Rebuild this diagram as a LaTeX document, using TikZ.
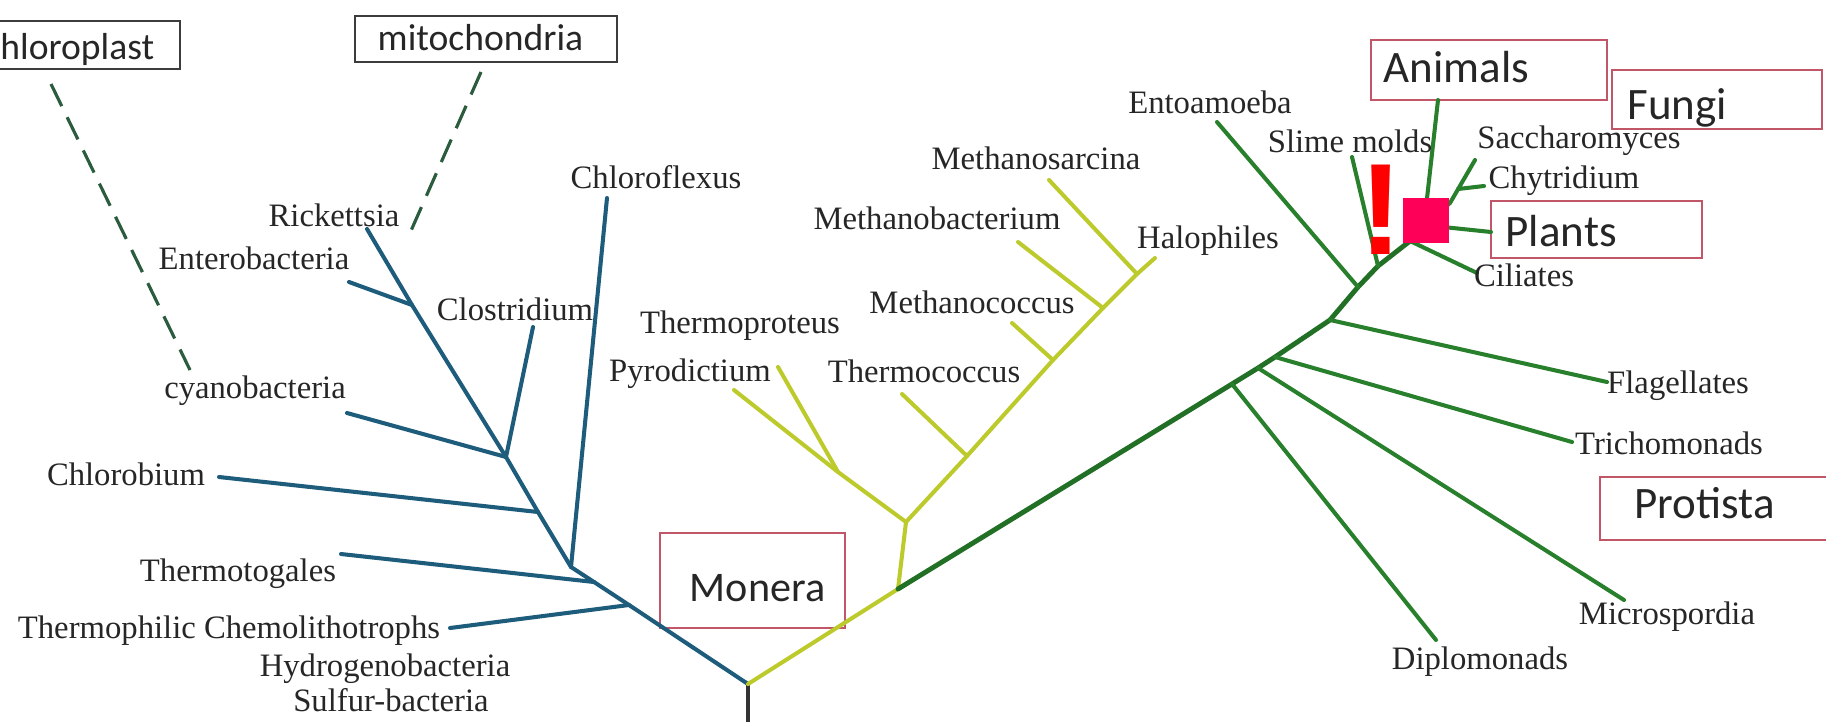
\documentclass[tikz,border=0pt]{standalone}
\usepackage{fontspec}
\setmainfont{Liberation Serif}
\newfontfamily\boxfont{Carlito}
\newfontfamily\bangfont{Liberation Sans}
\usetikzlibrary{fit}
\definecolor{bluebr}{RGB}{30,92,124}
\definecolor{yelbr}{RGB}{188,202,44}
\definecolor{grnbr}{RGB}{40,128,44}
\definecolor{grnmain}{RGB}{34,112,38}
\definecolor{dashgr}{RGB}{44,92,62}
\definecolor{boxred}{RGB}{192,86,104}
\definecolor{boxgray}{RGB}{60,60,60}
\definecolor{txt}{RGB}{38,38,38}
\definecolor{bangred}{RGB}{255,0,0}
\definecolor{sqpink}{RGB}{255,0,88}
\begin{document}
\begin{tikzpicture}[x=0.1mm,y=-0.1mm,
  lbl/.style={font=\fontsize{9.3}{11}\selectfont, text=txt, inner sep=0pt, anchor=mid},
  kbox/.style={draw=boxred, line width=0.8pt, inner sep=0pt},
  gbox/.style={draw=boxgray, line width=0.8pt, inner sep=0pt},
  ktext/.style={font=\boxfont\fontsize{12.8}{14}\selectfont, text=txt, inner sep=0pt, anchor=base west},
  otext/.style={font=\boxfont\fontsize{10.7}{12}\selectfont, text=txt, inner sep=0pt},
  btree/.style={draw=bluebr, line width=1.15pt, line cap=round, line join=round},
  ytree/.style={draw=yelbr, line width=1.15pt, line cap=round, line join=round},
  gtree/.style={draw=grnbr, line width=1.15pt, line cap=round, line join=round},
  dashlink/.style={draw=dashgr, line width=0.9pt, dash pattern=on 7pt off 3.5pt},
]
\useasboundingbox (0,0) rectangle (1826,721);
\clip (0,0) rectangle (1826,721);

% ---------- boxes ----------
\node[gbox, fit={(-45,21) (180,69)}] (chlorobox) {};
\node[otext, anchor=base east] (chloroT) at (155,59) {chloroplast};
\node[gbox, fit={(355,16) (617,62)}] (mitobox) {};
\node[otext, anchor=base west] (mitoT) at (377,50) {mitochondria};
\node[kbox, fit={(660,533) (845,628)}] (monerabox) {};
\node[ktext, font=\boxfont\fontsize{12}{14}\selectfont] (moneraT) at (689,601) {Monera};
\node[kbox, fit={(1371,40) (1607,100)}] (animalbox) {};
\node[ktext] (animalT) at (1383,82) {Animals};
\node[kbox, fit={(1612,70) (1822,129)}] (fungibox) {};
\node[ktext] (fungiT) at (1627,119) {Fungi};
\node[kbox, fit={(1491,201) (1702,258)}] (plantbox) {};
\node[ktext] (plantT) at (1505,246) {Plants};
\node[kbox, fit={(1600,477) (1860,540)}] (protbox) {};
\node[ktext] (protT) at (1634,518) {Protista};

% ---------- coordinates ----------
\coordinate (root) at (748,684);
\coordinate (rootend) at (748,730);
% blue
\coordinate (bCh) at (629,605);
\coordinate (bTg) at (594,582);
\coordinate (bk) at (571,567);
\coordinate (bCb) at (538,512);
\coordinate (bCy) at (506,457);
\coordinate (bEn) at (412,305);
\coordinate (eRick) at (367,229);
\coordinate (eEnt) at (349,282);
\coordinate (eClo) at (533,327);
\coordinate (eCya) at (347,413);
\coordinate (eChb) at (219,477);
\coordinate (eTg) at (341,554);
\coordinate (eChe) at (450,628);
\coordinate (eCfx) at (607,198);
% yellow
\coordinate (y1) at (898,589);
\coordinate (y2) at (906,522);
\coordinate (y3) at (838,472);
\coordinate (y4) at (967,456);
\coordinate (y5) at (1053,360);
\coordinate (y6) at (1103,308);
\coordinate (y7) at (1137,274);
\coordinate (ePyr) at (734,390);
\coordinate (eThp) at (778,367);
\coordinate (eThc) at (902,394);
\coordinate (eMcc) at (1012,323);
\coordinate (eMbc) at (1018,242);
\coordinate (eMsr) at (1049,180);
\coordinate (eHal) at (1155,258);
% green
\coordinate (g1) at (1232,384);
\coordinate (g2) at (1258,368);
\coordinate (g3) at (1275,357);
\coordinate (g4) at (1330,320);
\coordinate (g5) at (1358,287);
\coordinate (g6) at (1378,266);
\coordinate (g6b) at (1410,241);
\coordinate (g7) at (1424,225);
\coordinate (g8) at (1450,203);
\coordinate (g9) at (1458,189);
\coordinate (eDip) at (1436,640);
\coordinate (eMic) at (1624,600);
\coordinate (eTri) at (1572,442);
\coordinate (eFla) at (1607,382);
\coordinate (eEnto) at (1217,122);
\coordinate (eSli) at (1352,157);
\coordinate (eCil) at (1477,273);
\coordinate (eAni) at (1438,100);
\coordinate (eSac) at (1475,160);
\coordinate (eChy) at (1484,186);
\coordinate (ePla) at (1491,232);
% dashed
\coordinate (cpA) at (51,84);
\coordinate (cpB) at (190,370);
\coordinate (mtA) at (481,72);
\coordinate (mtB) at (410,233);

% ---------- dashed links ----------
\draw[dashlink] (cpA) -- (cpB);
\draw[dashlink] (mtA) -- (mtB);

% ---------- root ----------
\draw[draw=black!80, line width=1pt] (root) -- (rootend);

% ---------- blue tree ----------
\draw[btree] (root) -- (bCh) -- (bTg) -- (bk) -- (bCb) -- (bCy) -- (bEn) -- (eRick);
\draw[btree] (bCh) -- (eChe);
\draw[btree] (bTg) -- (eTg);
\draw[btree] (bk) -- (eCfx);
\draw[btree] (bCb) -- (eChb);
\draw[btree] (bCy) -- (eCya);
\draw[btree] (bCy) -- (eClo);
\draw[btree] (bEn) -- (eEnt);

% ---------- yellow tree ----------
\draw[ytree] (root) -- (y1) -- (y2) -- (y3) -- (ePyr);
\draw[ytree] (y3) -- (eThp);
\draw[ytree] (y2) -- (y4) -- (y5) -- (y6) -- (y7) -- (eHal);
\draw[ytree] (y4) -- (eThc);
\draw[ytree] (y5) -- (eMcc);
\draw[ytree] (y6) -- (eMbc);
\draw[ytree] (y7) -- (eMsr);

% ---------- green tree ----------
\draw[gtree, draw=grnmain, line width=1.4pt] (y1) -- (g1) -- (g2) -- (g3) -- (g4) -- (g5) -- (g6) -- (g6b) -- (g7);
\draw[gtree] (g1) -- (eDip);
\draw[gtree] (g2) -- (eMic);
\draw[gtree] (g3) -- (eTri);
\draw[gtree] (g4) -- (eFla);
\draw[gtree] (g5) -- (eEnto);
\draw[gtree] (g6) -- (eSli);
\draw[gtree] (g6b) -- (eCil);
\draw[gtree] (g7) -- (eAni);
\draw[gtree] (g7) -- (g8) -- (eSac);
\draw[gtree] (g9) -- (eChy);
\draw[gtree] (g7) -- (ePla);

% ---------- labels ----------
\node[lbl] (lRick) at (334,218) {Rickettsia};
\node[lbl] (lEnt) at (254,261) {Enterobacteria};
\node[lbl] (lClo) at (515,312) {Clostridium};
\node[lbl] (lCfx) at (656,180) {Chloroflexus};
\node[lbl] (lCya) at (255,390) {cyanobacteria};
\node[lbl] (lChb) at (126,477) {Chlorobium};
\node[lbl] (lTg) at (238,573) {Thermotogales};
\node[lbl] (lChe) at (229,630) {Thermophilic Chemolithotrophs};
\node[lbl] (lHyd) at (385,668) {Hydrogenobacteria};
\node[lbl] (lSul) at (391,703) {Sulfur-bacteria};
\node[lbl] (lPyr) at (690,373) {Pyrodictium};
\node[lbl] (lThp) at (740,325) {Thermoproteus};
\node[lbl] (lThc) at (924,374) {Thermococcus};
\node[lbl] (lMcc) at (972,305) {Methanococcus};
\node[lbl] (lMbc) at (937,221) {Methanobacterium};
\node[lbl] (lMsr) at (1036,161) {Methanosarcina};
\node[lbl] (lHal) at (1208,240) {Halophiles};
\node[lbl] (lEnto) at (1210,105) {Entoamoeba};
\node[lbl] (lSli) at (1350,144) {Slime molds};
\node[lbl] (lSac) at (1579,140) {Saccharomyces};
\node[lbl] (lChy) at (1564,180) {Chytridium};
\node[lbl] (lCil) at (1524,278) {Ciliates};
\node[lbl] (lFla) at (1678,385) {Flagellates};
\node[lbl] (lTri) at (1669,446) {Trichomonads};
\node[lbl] (lMic) at (1667,616) {Microspordia};
\node[lbl] (lDip) at (1480,661) {Diplomonads};

% ---------- overlay marks ----------
\node[fill=sqpink, inner sep=0pt, fit={(1403,198) (1449,243)}] (sq) {};
\node[font=\bangfont\bfseries\fontsize{37}{40}\selectfont, text=bangred, inner sep=0pt, anchor=base] (bang) at (1381.5,254) {!};
\end{tikzpicture}
\end{document}
